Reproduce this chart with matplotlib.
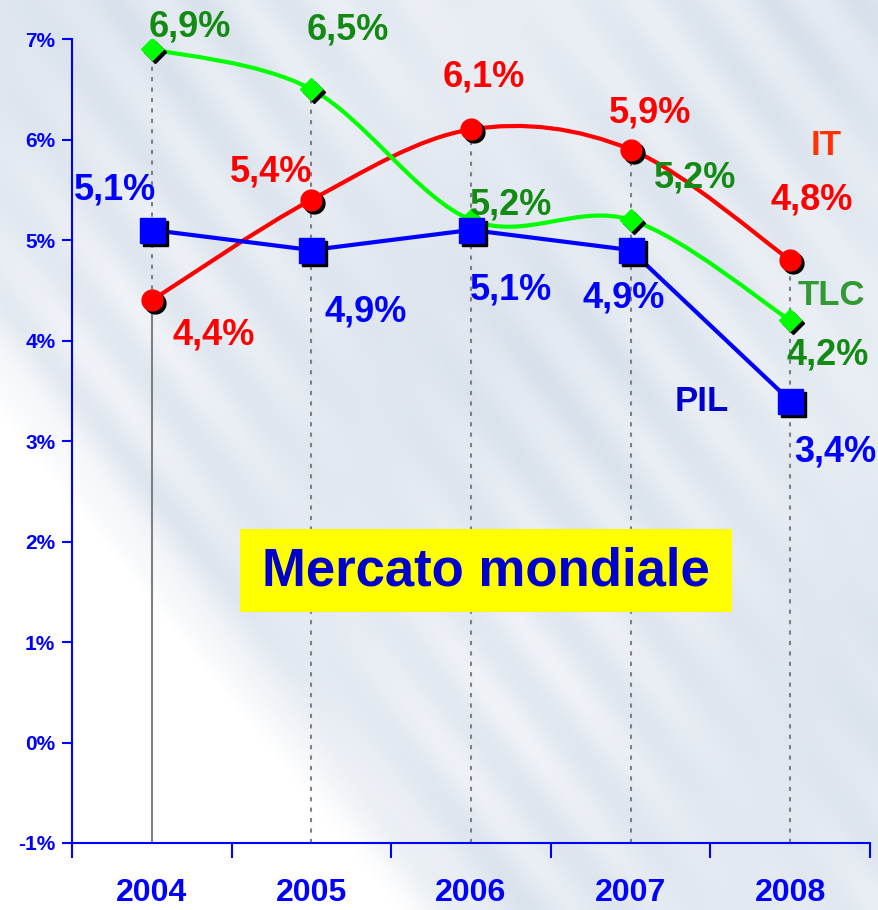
import numpy as np
import matplotlib.pyplot as plt
from matplotlib.path import Path
from matplotlib.patches import PathPatch, Rectangle
from matplotlib.transforms import offset_copy

plt.rcParams['font.family'] = ['Liberation Sans', 'DejaVu Sans']
plt.rcParams['font.weight'] = 'bold'

years = ['2004', '2005', '2006', '2007', '2008']
it = [4.4, 5.4, 6.1, 5.9, 4.8]
tlc = [6.9, 6.5, 5.2, 5.2, 4.2]
pil = [5.1, 4.9, 5.1, 4.9, 3.4]
y_ticks = [-1, 0, 1, 2, 3, 4, 5, 6, 7]
title = 'Mercato mondiale'

# value label offsets (pixels from the point)
it_off = [(62, -35), (-40, 28), (13, 52), (19, 37), (21, 60)]
tlc_off = [(38, 22), (36, 59), (40, 15), (64, 42), (37, -35)]
pil_off = [(-37, 40), (54, -62), (40, -60), (-7, -48), (45, -51)]

W, H = 879, 910
fig = plt.figure(figsize=(W / 100, H / 100), dpi=100)

# background texture
bg = fig.add_axes([0, 0, 1, 1], zorder=-10)
yy, xx = np.mgrid[0:H, 0:W].astype(float)
s = (xx - 0.8 * yy + 330) / 90.0
mix = np.clip(s, 0, 1)
stripes = 0.5 + 0.5 * np.sin((xx - 0.8 * yy) / 14.0) * np.sin((xx + 0.3 * yy) / 160.0)
cloud = 0.5 + 0.5 * np.sin(xx / 130.0 + 1.0) * np.cos(yy / 110.0)
white = np.array([1.0, 1.0, 1.0])
base = np.array([0.94, 0.95, 0.97])
dark = np.array([0.80, 0.85, 0.90])
col = base[None, None, :] + (dark - base)[None, None, :] * (0.4 * stripes + 0.3 * cloud)[..., None]
img = white[None, None, :] * (1 - mix[..., None]) + col * mix[..., None]
bg.imshow(img, aspect='auto', extent=[0, 1, 0, 1], origin='upper')
bg.axis('off')

ax = fig.add_axes([72 / W, 1 - 843 / H, (870 - 72) / W, (843 - 39) / H])
ax.patch.set_alpha(0)
x = np.arange(len(years))
ax.set_xlim(-0.5, len(years) - 0.5)
ax.set_ylim(-1, 7)

# drop lines
for i in x:
    vals = [it[i], tlc[i], pil[i]]
    lo, hi = min(vals), max(vals)
    if i == 0:
        ax.plot([i, i], [-1, lo], color='#808080', lw=1.5, zorder=1)
        ax.plot([i, i], [lo, hi], color='#808080', lw=1.5, ls=(0, (2, 3)), zorder=1)
    else:
        ax.plot([i, i], [-1, hi], color='#808080', lw=1.5, ls=(0, (2, 3)), zorder=1)


def smooth_path(xs, ys, yscale):
    pts = np.column_stack([xs, np.asarray(ys) * yscale])
    p = np.vstack([pts[0], pts, pts[-1]])
    verts = [tuple(pts[0])]
    codes = [Path.MOVETO]
    for k in range(len(pts) - 1):
        p0, p1, p2, p3 = p[k], p[k + 1], p[k + 2], p[k + 3]
        c1 = p1 + (p2 - p0) / 6
        c2 = p2 - (p3 - p1) / 6
        verts += [tuple(c1), tuple(c2), tuple(p2)]
        codes += [Path.CURVE4] * 3
    verts = [(vx, vy / yscale) for vx, vy in verts]
    return Path(verts, codes)


yscale = 100.5 / 160.0
ax.add_patch(PathPatch(smooth_path(x, it, yscale), fill=False, ec='#ff0000', lw=3, zorder=3))
ax.add_patch(PathPatch(smooth_path(x, tlc, yscale), fill=False, ec='#00ff00', lw=3, zorder=3))
ax.plot(x, pil, color='#0000ff', lw=3, zorder=3)

shadow = offset_copy(ax.transData, fig=fig, x=3, y=-3, units='dots')
for vals, mk, ms, c in [(it, 'o', 15, '#ff0000'), (tlc, 'D', 11, '#00ff00'), (pil, 's', 18, '#0000ff')]:
    ax.plot(x, vals, ls='none', marker=mk, ms=ms, mfc='black', mec='black', transform=shadow, zorder=4)
    ax.plot(x, vals, ls='none', marker=mk, ms=ms, mfc=c, mec=c, zorder=5)


def fmt(v):
    return f'{v:.1f}'.replace('.', ',') + '%'


for vals, offs, c in [(it, it_off, '#ff0000'), (tlc, tlc_off, '#138a13'), (pil, pil_off, '#0000ff')]:
    for i, v in enumerate(vals):
        ax.annotate(fmt(v), (i, v), xytext=offs[i], textcoords='offset pixels',
                    ha='center', va='center', fontsize=26, color=c, fontweight='bold',
                    zorder=6, annotation_clip=False)

last = len(years) - 1
ax.annotate('IT', (last, it[-1]), xytext=(36, 115), textcoords='offset pixels', ha='center',
            va='center', fontsize=25, color='#ff3300', fontweight='bold', annotation_clip=False)
ax.annotate('TLC', (last, tlc[-1]), xytext=(41, 25), textcoords='offset pixels', ha='center',
            va='center', fontsize=25, color='#339933', fontweight='bold', annotation_clip=False)
ax.annotate('PIL', (last, pil[-1]), xytext=(-88, -1), textcoords='offset pixels', ha='center',
            va='center', fontsize=25, color='#0000cc', fontweight='bold', annotation_clip=False)

# title box
fig.patches.append(Rectangle((240 / W, 1 - 612 / H), (732 - 240) / W, (612 - 529) / H,
                             transform=fig.transFigure, facecolor='#ffff00', edgecolor='none', zorder=7))
fig.text(486 / W, 1 - 572 / H, title, ha='center', va='center', fontsize=38,
         color='#0000cc', fontweight='bold', zorder=8)

# axes styling
for side in ['top', 'right']:
    ax.spines[side].set_visible(False)
for side in ['left', 'bottom']:
    ax.spines[side].set_color('#0000ff')
    ax.spines[side].set_linewidth(1.5)
ax.set_yticks(y_ticks)
ax.set_yticklabels([f'{v}%' for v in y_ticks])
ax.tick_params(axis='y', colors='#0000ff', length=7, width=1.5, labelsize=15, pad=5)
ax.set_xticks(np.arange(len(years) + 1) - 0.5, minor=False)
ax.set_xticklabels([''] * (len(years) + 1))
ax.tick_params(axis='x', colors='#0000ff', length=11, width=1.5)
ax.set_xticks(x, minor=True)
ax.set_xticklabels(years, minor=True)
ax.tick_params(axis='x', which='minor', length=0, labelsize=23, pad=25, labelcolor='#0000ff')
for lab in ax.get_xticklabels(minor=True) + ax.get_yticklabels():
    lab.set_fontweight('bold')

fig.savefig('out.png', dpi=100)
